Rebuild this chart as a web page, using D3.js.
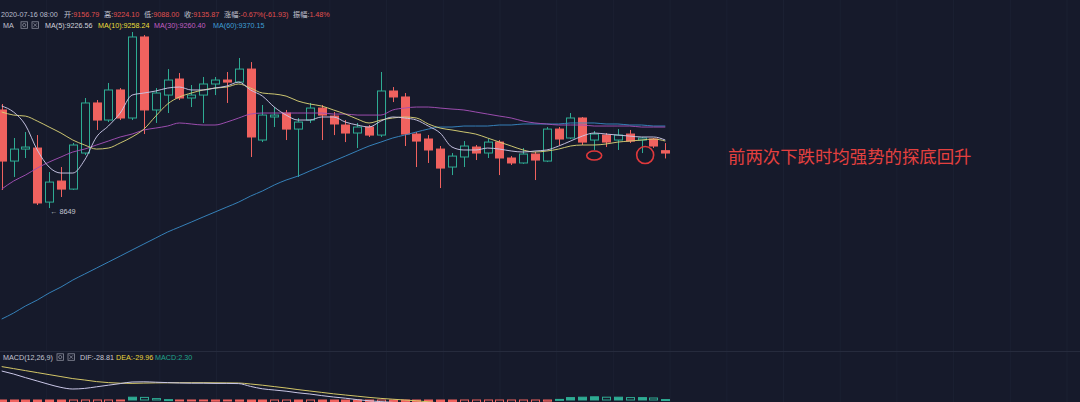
<!DOCTYPE html>
<html><head><meta charset="utf-8">
<script src="https://cdn.jsdelivr.net/npm/d3@7"></script>
<style>html,body{margin:0;padding:0;background:#161a2b;overflow:hidden}svg{display:block}</style>
</head><body><svg id="c" width="1080" height="402"></svg>
<script>
// ---- data (daily candles, 2020-05-21 .. 2020-07-16) ----
const dates = ["05-21","05-22","05-23","05-24","05-25","05-26","05-27","05-28","05-29","05-30","05-31",
"06-01","06-02","06-03","06-04","06-05","06-06","06-07","06-08","06-09","06-10","06-11","06-12","06-13","06-14","06-15",
"06-16","06-17","06-18","06-19","06-20","06-21","06-22","06-23","06-24","06-25","06-26","06-27","06-28","06-29","06-30",
"07-01","07-02","07-03","07-04","07-05","07-06","07-07","07-08","07-09","07-10","07-11","07-12","07-13","07-14","07-15","07-16"];
const openP  = [9517,9065,9171,9180,8702,8888,8817,9136,9579,9428,9694,9446,10163,9517,9649,9791,9623,9649,9747,9782,9764,9879,9251,9455,9490,9348,9428,9534,9463,9384,9313,9366,9295,9685,9632,9304,9260,9171,9012,9101,9189,9136,9233,9092,9048,9127,9065,9348,9269,9446,9251,9295,9251,9304,9251,9260,9156.79];
const highP  = [9570,9269,9322,9295,8968,9012,9225,9623,9605,9756,9711,10207,10180,9711,9879,9844,9738,9809,9809,9853,9977,9941,9561,9543,9517,9446,9579,9561,9499,9428,9402,9384,9853,9720,9667,9322,9295,9198,9136,9242,9207,9260,9251,9109,9180,9145,9366,9366,9490,9455,9331,9313,9348,9340,9278,9269,9224.10];
const lowP   = [8809,8924,9092,8676,8649,8747,8809,9118,9340,9410,9428,9428,9304,9402,9490,9605,9543,9402,9649,9579,9756,9101,9233,9366,9251,8924,9402,9251,9295,9233,9180,9278,9278,9587,9198,9012,9048,8826,8941,9012,9074,9092,8941,9030,9040,8897,9056,9207,9260,9207,9163,9189,9163,9225,9136,9180,9088.00];
const closeP = [9065,9171,9189,8694,8879,8817,9207,9579,9428,9694,9446,10163,9517,9667,9782,9623,9649,9747,9782,9764,9879,9278,9472,9472,9348,9410,9534,9472,9393,9313,9366,9295,9685,9632,9304,9242,9163,9003,9109,9198,9136,9233,9092,9048,9127,9074,9348,9260,9446,9233,9304,9233,9295,9242,9269,9198,9135.87];
const ma5  = [9552,9499,9384,9163,9012,8959,8959,9074,9278,9375,9490,9649,9667,9685,9711,9720,9694,9694,9711,9729,9764,9694,9640,9543,9472,9428,9428,9455,9455,9410,9384,9366,9419,9455,9446,9428,9375,9313,9189,9163,9163,9180,9171,9154,9145,9154,9163,9198,9242,9286,9313,9304,9295,9286,9278,9278,9251];
const ma10 = [9499,9472,9463,9419,9366,9313,9251,9207,9171,9180,9225,9278,9348,9463,9570,9632,9667,9694,9711,9720,9747,9711,9667,9658,9640,9596,9570,9552,9517,9481,9437,9402,9428,9446,9455,9446,9393,9357,9340,9322,9304,9269,9233,9198,9163,9145,9154,9171,9198,9207,9207,9216,9233,9242,9251,9260,9242];
const ma30 = [8817,8888,8941,9003,9056,9101,9145,9171,9207,9242,9278,9304,9340,9357,9375,9402,9393,9384,9384,9410,9446,9481,9490,9490,9490,9490,9490,9490,9481,9481,9472,9472,9472,9517,9534,9543,9543,9534,9525,9517,9499,9481,9463,9446,9419,9402,9393,9384,9384,9384,9375,9375,9375,9375,9366,9366,9366];
const ma60 = [7667,7720,7782,7835,7897,7950,8012,8065,8118,8171,8224,8278,8331,8384,8437,8481,8525,8570,8614,8658,8702,8755,8800,8853,8897,8932,8977,9021,9065,9109,9154,9198,9233,9269,9295,9322,9348,9366,9366,9375,9375,9375,9384,9384,9393,9393,9393,9393,9402,9402,9402,9393,9393,9384,9384,9375,9375];
const dif  = [145,130,112,95,78,63,55,58,66,74,82,90,91,89,87,85,84,84,83,83,82,68,56,50,44,36,30,22,15,9,2,-4,-8,-12,-18,-24,-30,-38,-44,-46,-48,-48,-50,-52,-52,-53,-48,-45,-38,-35,-32,-31,-29,-28,-27,-27,-28.81];
const dea  = [167,157,147,137,127,117,107,100,92,87,84,83,84.5,85.5,86,86.5,86.5,86.5,86,85.5,85,80,74,67,60,52,45,38,31,25,19,13,8,4,0,-4,-9,-15,-21,-26,-30,-33,-36,-39,-42,-44,-45,-45,-44,-42,-40,-38,-36,-34,-33,-32,-29.96];
const macdHist = [-44,-54,-70,-84,-98,-108,-104,-84,-52,-26,-4,14,13,7,2,-3,-5,-5,-6,-5,-6,-24,-36,-34,-32,-32,-30,-32,-32,-32,-34,-34,-32,-32,-36,-40,-42,-46,-46,-40,-36,-30,-28,-26,-20,-18,-6,3,12,14,16,14,14,12,12,10,2.3];
const lowMarkLabel = "← 8649";
const noteText = "前两次下跌时均强势的探底回升";
const header1 = [
  {l:"", v:"2020-07-16 08:00", vc:"#b9bccb", x:1},
  {l:"开:", v:"9156.79", x:64},
  {l:"高:", v:"9224.10", x:104},
  {l:"低:", v:"9088.00", x:144},
  {l:"收:", v:"9135.87", x:184},
  {l:"涨幅:", v:"-0.67%(-61.93)", x:224},
  {l:"振幅:", v:"1.48%", x:293}
];
const header2 = [
  {l:"", v:"MA(5):9226.56", vc:"#d4d4de", x:45},
  {l:"", v:"MA(10):9258.24", vc:"#ecdf3a", x:98},
  {l:"", v:"MA(30):9260.40", vc:"#c25fc2", x:154},
  {l:"", v:"MA(60):9370.15", vc:"#3f9fd6", x:213}
];
const header3 = [
  {l:"", v:"DIF:-28.81", vc:"#c8c9d4", x:80},
  {l:"", v:"DEA:-29.96", vc:"#e6d33c", x:116},
  {l:"", v:"MACD:2.30", vc:"#21a58c", x:155}
];
const marks = [{i:50, p:9114, rx:7.5, ry:4.5}, {i:54.3, p:9118, rx:8.5, ry:8.5}];

// ---- drawing ----
const W = 1080, H = 402;
const svg = d3.select("#c");
const BG = "#161a2b", RED = "#f0625f", GREEN = "#2eab93";
svg.append("rect").attr("width", W).attr("height", H).attr("fill", BG);

const idx = d3.range(dates.length);
const x = d3.scaleBand().domain(dates).range([-4.225, -4.225 + 11.85 * dates.length]).padding(0);
const cx = d => x(dates[d]) + x.bandwidth() / 2;
const cxf = v => x(dates[0]) + x.bandwidth() / 2 + v * x.step();
const y = d3.scaleLinear().domain([7600, 10300]).range([326.6, 21.5]);
const ym = d3.scaleLinear().domain([-50, 200]).range([410, 360]);
const bw = 8;

// faint grid
const gridX = d3.range(46.4, W, 56.7);
svg.append("g").selectAll("line").data(gridX).join("line")
  .attr("x1", d => d).attr("x2", d => d).attr("y1", 0).attr("y2", H)
  .attr("stroke", "#1b2032").attr("stroke-width", 1);
svg.append("line").attr("x1", 0).attr("x2", W).attr("y1", 351.5).attr("y2", 351.5)
  .attr("stroke", "#262b3d").attr("stroke-width", 1);

// clip paths
const defs = svg.append("defs");
defs.append("clipPath").attr("id", "mainClip").append("rect").attr("x", 0).attr("y", 30).attr("width", W).attr("height", 321);
defs.append("clipPath").attr("id", "macdClip").append("rect").attr("x", 0).attr("y", 352).attr("width", W).attr("height", 50);

const main = svg.append("g").attr("clip-path", "url(#mainClip)");

// candles
const cg = main.append("g").selectAll("g").data(idx).join("g");
cg.append("line")
  .attr("x1", d => Math.round(cx(d)) + 0.5).attr("x2", d => Math.round(cx(d)) + 0.5)
  .attr("y1", d => y(highP[d])).attr("y2", d => y(lowP[d]))
  .attr("stroke", d => closeP[d] >= openP[d] ? GREEN : RED).attr("stroke-width", 1);
cg.append("rect")
  .attr("x", d => Math.round(cx(d)) + 0.5 - bw / 2)
  .attr("y", d => y(Math.max(openP[d], closeP[d])))
  .attr("width", bw)
  .attr("height", d => Math.max(1, Math.abs(y(openP[d]) - y(closeP[d]))))
  .attr("fill", d => closeP[d] >= openP[d] ? BG : RED)
  .attr("stroke", d => closeP[d] >= openP[d] ? GREEN : RED)
  .attr("stroke-width", 1);

// MA lines
const maLine = arr => d3.line().x((v, i) => cx(i)).y(v => y(v)).curve(d3.curveMonotoneX)(arr);
[[ma60, "#3786c0"], [ma30, "#a24fb4"], [ma10, "#d6cf74"], [ma5, "#c9c6e6"]].forEach(([arr, col]) => {
  main.append("path").attr("d", maLine(arr)).attr("fill", "none").attr("stroke", col).attr("stroke-width", 1).attr("opacity", 0.95);
});

// low mark
const lowIdx = lowP.indexOf(d3.min(lowP));
svg.append("text").attr("x", cx(lowIdx) + 1).attr("y", y(lowP[lowIdx]) + 6)
  .attr("font-family", "Liberation Sans, Noto Sans CJK SC, sans-serif").attr("font-size", 7.3)
  .attr("fill", "#c3c5d2").text(lowMarkLabel);

// hand-drawn marks
svg.append("g").selectAll("ellipse").data(marks).join("ellipse")
  .attr("cx", d => cxf(d.i)).attr("cy", d => y(d.p)).attr("rx", d => d.rx).attr("ry", d => d.ry)
  .attr("fill", "none").attr("stroke", "#e0393c").attr("stroke-width", 1.6);

// note
svg.append("text").attr("x", 728).attr("y", 162.5)
  .attr("font-family", "Noto Sans CJK SC, sans-serif").attr("font-size", 17.4)
  .attr("fill", "#e4403f").text(noteText);

// headers
const hfont = "Liberation Sans, Noto Sans CJK SC, sans-serif";
const FS = 7.2;
function drawRow(items, yy) {
  const t = svg.append("g").selectAll("text").data(items).join("text")
    .attr("x", d => d.x).attr("y", yy).attr("font-family", hfont).attr("font-size", FS);
  t.append("tspan").attr("fill", "#c3c5d2").text(d => d.l);
  t.append("tspan").attr("fill", d => d.vc || "#e0504f").text(d => d.v);
}
drawRow(header1, 16.8);
svg.append("text").attr("x", 3).attr("y", 28).attr("font-family", hfont).attr("font-size", FS).attr("fill", "#c3c5d2").text("MA");
drawRow(header2, 28);
svg.append("text").attr("x", 3).attr("y", 360).attr("font-family", hfont).attr("font-size", FS).attr("fill", "#c3c5d2").text("MACD(12,26,9)");
drawRow(header3, 360);

// small icons
function icons(x0, yTop) {
  const g = svg.append("g").attr("stroke", "#8a8d9c").attr("fill", "none").attr("stroke-width", 0.8);
  g.append("rect").attr("x", x0).attr("y", yTop).attr("width", 6.5).attr("height", 6.5);
  g.append("circle").attr("cx", x0 + 3.25).attr("cy", yTop + 3.25).attr("r", 1.6);
  g.append("rect").attr("x", x0 + 11).attr("y", yTop).attr("width", 6.5).attr("height", 6.5);
  g.append("path").attr("d", `M${x0 + 12.5},${yTop + 1.5}L${x0 + 16},${yTop + 5}M${x0 + 16},${yTop + 1.5}L${x0 + 12.5},${yTop + 5}`);
}
icons(21, 21.8);
icons(57, 353.8);

// MACD pane
const mg = svg.append("g").attr("clip-path", "url(#macdClip)");
mg.append("g").selectAll("rect").data(idx).join("rect")
  .attr("x", d => Math.round(cx(d)) + 0.5 - bw / 2)
  .attr("y", d => Math.min(ym(0), ym(macdHist[d])))
  .attr("width", bw)
  .attr("height", d => Math.max(1, Math.abs(ym(macdHist[d]) - ym(0))))
  .attr("fill", d => {
    const grow = d === 0 || Math.abs(macdHist[d]) >= Math.abs(macdHist[d - 1]);
    return grow ? (macdHist[d] >= 0 ? GREEN : RED) : BG;
  })
  .attr("stroke", d => macdHist[d] >= 0 ? GREEN : RED).attr("stroke-width", 1);
const mLine = arr => d3.line().x((v, i) => cx(i)).y(v => ym(v)).curve(d3.curveMonotoneX)(arr);
mg.append("path").attr("d", mLine(dea)).attr("fill", "none").attr("stroke", "#d3c667").attr("stroke-width", 1);
mg.append("path").attr("d", mLine(dif)).attr("fill", "none").attr("stroke", "#c9c6e6").attr("stroke-width", 1);
</script></body></html>
